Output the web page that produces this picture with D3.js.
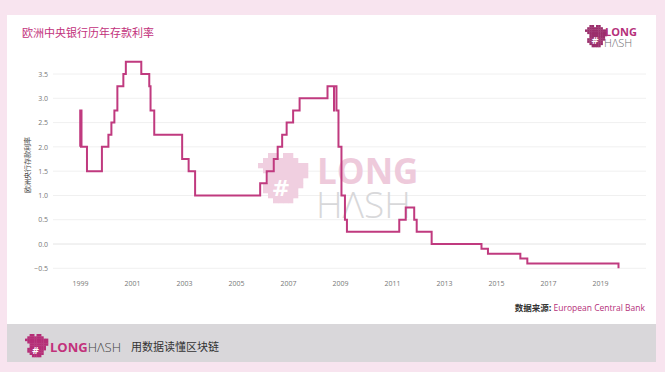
<!DOCTYPE html>
<html>
<head>
<meta charset="utf-8">
<script src="https://cdn.jsdelivr.net/npm/d3@7"></script>
<style>
  body { margin: 0; background: #f8e4ef; }
  svg { display: block; font-family: "Noto Sans CJK SC", "Open Sans", sans-serif; }
</style>
</head>
<body>
<div id="chart"></div>
<script>
// ECB deposit facility rate, change dates and new levels
const rateDates = ["1999-01-01", "1999-01-04", "1999-01-22", "1999-04-09", "1999-11-05",
    "2000-02-04", "2000-03-17", "2000-04-28", "2000-06-09", "2000-09-01", "2000-10-06",
    "2001-05-11", "2001-08-31", "2001-09-18", "2001-11-09", "2002-12-06", "2003-03-07",
    "2003-06-06", "2005-12-06", "2006-03-08", "2006-06-15", "2006-08-09", "2006-10-11",
    "2006-12-13", "2007-03-14", "2007-06-13", "2008-07-09", "2008-10-08", "2008-10-09",
    "2008-11-12", "2008-12-10", "2009-01-21", "2009-03-11", "2009-04-08", "2011-04-13",
    "2011-07-13", "2011-11-09", "2011-12-14", "2012-07-11", "2014-06-11", "2014-09-10",
    "2015-12-09", "2016-03-16", "2019-09-18"];
const rateValues = [2.00, 2.75, 2.00, 1.50, 2.00,
    2.25, 2.50, 2.75, 3.25, 3.50, 3.75,
    3.50, 3.25, 2.75, 2.25, 1.75, 1.50,
    1.00, 1.25, 1.50, 1.75, 2.00, 2.25,
    2.50, 2.75, 3.00, 3.25, 2.75, 3.25,
    2.75, 2.00, 1.00, 0.50, 0.25, 0.50,
    0.75, 0.50, 0.25, 0.00, -0.10, -0.20,
    -0.30, -0.40, -0.50];
const yTicks = [-0.5, 0, 0.5, 1, 1.5, 2, 2.5, 3, 3.5];
const xTickYears = [1999, 2001, 2003, 2005, 2007, 2009, 2011, 2013, 2015, 2017, 2019];

const width = 665, height = 372;
const pink = "#c03a7f";
const parse = d3.timeParse("%Y-%m-%d");
const data = rateDates.map((d, i) => ({ date: parse(d), value: rateValues[i] }));

const svg = d3.select("#chart").append("svg")
    .attr("width", width)
    .attr("height", height);

// background + card
svg.append("rect").attr("width", width).attr("height", height).attr("fill", "#f8e4ef");
svg.append("rect").attr("x", 7).attr("y", 15).attr("width", 649).attr("height", 309).attr("fill", "#ffffff");
svg.append("rect").attr("x", 7).attr("y", 324).attr("width", 649).attr("height", 38).attr("fill", "#d9d7da");

// pixel logo
const blob = [
    "..##.##...",
    ".#######..",
    "##########",
    ".#########",
    "..########",
    "..#######.",
    ".########.",
    ".#######..",
    "..######..",
    "...####..."
];
function drawLogo(x, y, cell, color, hashColor, hashSize) {
    const g = svg.append("g").attr("transform", `translate(${x},${y})`);
    blob.forEach((row, r) => {
        row.split("").forEach((c, k) => {
            if (c === "#") {
                g.append("rect")
                    .attr("x", k * cell)
                    .attr("y", r * cell)
                    .attr("width", cell + 0.3)
                    .attr("height", cell + 0.3)
                    .attr("fill", color);
            }
        });
    });
    g.append("text")
        .attr("x", cell * 4.6)
        .attr("y", cell * 8.6)
        .attr("font-family", "DejaVu Sans, sans-serif")
        .attr("font-weight", "bold")
        .attr("font-size", hashSize)
        .attr("text-anchor", "middle")
        .attr("fill", hashColor)
        .text("#");
    return g;
}

// stacked LONG / HASH word mark as one text
function wordMark(x, y, size1, size2, gap, col1, col2) {
    const t = svg.append("text")
        .attr("x", x)
        .attr("y", y)
        .attr("font-family", "Open Sans, sans-serif");
    t.append("tspan")
        .attr("font-weight", "bold")
        .attr("font-size", size1)
        .attr("fill", col1)
        .text("LONG");
    t.append("tspan")
        .attr("x", x - 1)
        .attr("dy", gap)
        .attr("font-weight", 300)
        .attr("font-size", size2)
        .attr("fill", col2)
        .text("HΛSH");
}

// title
svg.append("text")
    .attr("x", 22)
    .attr("y", 37)
    .attr("font-size", "11px")
    .attr("fill", "#c2317b")
    .text("欧洲中央银行历年存款利率");

// top-right logo
drawLogo(585, 25, 2.2, "#9b2f6c", "#ffffff", "9px");
wordMark(605, 36, "11px", "11px", 11, "#b5307a", "#6c6c70");

// scales
const x = d3.scaleTime()
    .domain([parse("1999-01-01"), parse("2019-01-01")])
    .range([80, 600]);
const y = d3.scaleLinear()
    .domain([-0.5, 3.5])
    .range([268.3, 74]);

// grid
svg.append("g")
    .selectAll("line")
    .data(yTicks)
    .join("line")
    .attr("x1", 53)
    .attr("x2", 646)
    .attr("y1", d => y(d))
    .attr("y2", d => y(d))
    .attr("stroke", d => d === 0 ? "#e4e4e4" : "#f0f0f0")
    .attr("stroke-width", 1);

// y axis labels
const yAxis = svg.append("g")
    .attr("transform", "translate(48,0)")
    .call(d3.axisLeft(y).tickValues(yTicks).tickFormat(d3.format(".1f")).tickSize(0).tickPadding(0));
yAxis.select(".domain").remove();
yAxis.selectAll("text")
    .attr("font-family", "Open Sans, sans-serif")
    .attr("font-size", "7px")
    .attr("fill", "#777");

// x axis labels
const xAxis = svg.append("g")
    .attr("transform", "translate(0,281)")
    .call(d3.axisBottom(x)
        .tickValues(xTickYears.map(yr => new Date(yr, 0, 1)))
        .tickFormat(d3.timeFormat("%Y"))
        .tickSize(0)
        .tickPadding(0));
xAxis.select(".domain").remove();
xAxis.selectAll("text")
    .attr("font-family", "Open Sans, sans-serif")
    .attr("font-size", "7px")
    .attr("fill", "#777");

// y axis title
svg.append("text")
    .attr("transform", "translate(30,165) rotate(-90)")
    .attr("text-anchor", "middle")
    .attr("font-size", "7px")
    .attr("fill", "#444")
    .text("欧洲央行存款利率");

// watermark
drawLogo(258, 153, 5, "#f0cfe0", "#ffffff", "22px");
wordMark(317, 184, "35px", "37px", 34, "#eecadb", "#d8d8da");

// rate line
const line = d3.line()
    .x(d => x(d.date))
    .y(d => y(d.value))
    .curve(d3.curveStepAfter);

svg.append("path")
    .datum(data)
    .attr("d", line)
    .attr("fill", "none")
    .attr("stroke", pink)
    .attr("stroke-width", 2);

// source
const src = svg.append("text")
    .attr("x", 645)
    .attr("y", 311)
    .attr("text-anchor", "end")
    .attr("font-size", "8.5px");
src.append("tspan").attr("font-weight", "bold").attr("fill", "#333").text("数据来源: ");
src.append("tspan").attr("fill", "#b5307a").attr("font-family", "Open Sans, sans-serif").text("European Central Bank");

// footer
drawLogo(25, 334, 2.3, "#b52e77", "#ffffff", "9px");
const foot = svg.append("text").attr("x", 50).attr("y", 352)
    .attr("font-family", "Open Sans, sans-serif")
    .attr("font-size", "13px");
foot.append("tspan").attr("font-weight", "bold").attr("fill", "#c2317b").text("LONG");
foot.append("tspan").attr("font-weight", 300).attr("fill", "#444").text("HΛSH");
svg.append("text").attr("x", 131).attr("y", 351)
    .attr("font-size", "11px").attr("fill", "#333").text("用数据读懂区块链");
</script>
</body>
</html>
